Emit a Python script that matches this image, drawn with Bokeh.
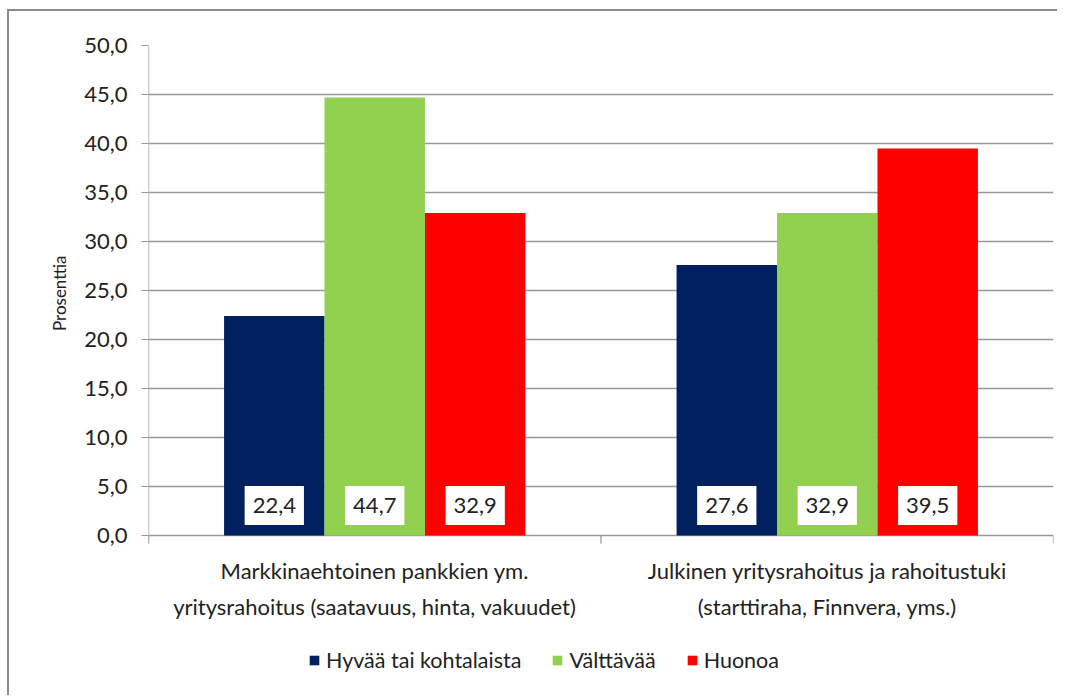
from bokeh.plotting import figure
from bokeh.models import (ColumnDataSource, FactorRange, Range1d, Title,
                          FixedTicker, Legend, LegendItem)
from bokeh.transform import dodge
from bokeh.core.properties import value
from bokeh.embed import file_html
from bokeh.resources import INLINE

# ---- data ----
categories = [
    "Markkinaehtoinen pankkien ym.\nyritysrahoitus (saatavuus, hinta, vakuudet)",
    "Julkinen yritysrahoitus ja rahoitustuki\n(starttiraha, Finnvera, yms.)",
]
series_names = ["Hyvää tai kohtalaista", "Välttävää", "Huonoa"]
hyvaa = [22.4, 27.6]
valttavaa = [44.7, 32.9]
huonoa = [32.9, 39.5]
y_ticks = [0, 5, 10, 15, 20, 25, 30, 35, 40, 45, 50]
y_label = "Prosenttia"

# ---- style ----
colors = ["#002060", "#92D050", "#FF0000"]
FONT = "Lato"
TXT = "#222222"
GRID = "#999999"
Y_MAX = 50
TICK_Y = -0.8163   # length of the category boundary ticks under the zero line
Y_MIN = -16.33     # frame continues below the bars for labels and legend


def fmt(v):
    return f"{v:.1f}".replace(".", ",")


src = ColumnDataSource(dict(
    cat=categories,
    s0=hyvaa, s1=valttavaa, s2=huonoa,
    l0=[fmt(v) for v in hyvaa],
    l1=[fmt(v) for v in valttavaa],
    l2=[fmt(v) for v in huonoa],
))

p = figure(
    x_range=FactorRange(*categories, range_padding=0),
    y_range=Range1d(Y_MIN, Y_MAX),
    width=1050, height=686,
    min_border_left=139, min_border_right=6,
    min_border_top=34, min_border_bottom=2,
    x_axis_location=None,
    toolbar_location=None, output_backend="svg",
    styles={"border-left": "2px solid #8a8a8a", "border-top": "2px solid #8a8a8a",
            "margin-left": "7px", "margin-top": "9px"},
)
p.outline_line_color = None
p.xgrid.grid_line_color = None
p.ygrid.ticker = FixedTicker(ticks=y_ticks)
p.ygrid.grid_line_color = GRID
p.ygrid.grid_line_width = 1.3

# y axis (ticks + labels; its line is drawn as a segment so it stops under zero)
ya = p.yaxis[0]
ya.ticker = FixedTicker(ticks=y_ticks)
ya.major_label_overrides = {t: fmt(t) for t in y_ticks}
ya.axis_line_color = None
ya.major_tick_line_color = GRID
ya.major_tick_in = 0
ya.major_tick_out = 7
ya.minor_tick_line_color = None
ya.major_label_standoff = 14
ya.major_label_text_font = FONT
ya.major_label_text_font_size = "22px"
ya.major_label_text_color = TXT

ytitle = Title(text=y_label, align="right", offset=210, standoff=24,
               text_font=FONT, text_font_size="17px", text_font_style="normal",
               text_color=TXT)
p.add_layout(ytitle, "left")

first = ColumnDataSource(dict(cat=categories[:1]))
last = ColumnDataSource(dict(cat=categories[-1:]))
# y axis line
p.segment(x0=dodge("cat", -0.5, range=p.x_range), x1=dodge("cat", -0.5, range=p.x_range),
          y0=Y_MAX, y1=TICK_Y, source=first, line_color=GRID, line_width=1.3)
# category boundary ticks below the zero line
p.segment(x0=dodge("cat", -0.5, range=p.x_range), x1=dodge("cat", -0.5, range=p.x_range),
          y0=0, y1=TICK_Y, source=src, line_color=GRID, line_width=1.3)
p.segment(x0=dodge("cat", 0.5, range=p.x_range), x1=dodge("cat", 0.5, range=p.x_range),
          y0=0, y1=TICK_Y, source=last, line_color=GRID, line_width=1.3)

# category labels
p.text(x="cat", y=0, text="cat", source=src, y_offset=22,
       text_align="center", text_baseline="top", text_line_height=1.3,
       text_font=value(FONT), text_font_size="22px", text_color=TXT)

offsets = [-0.222, 0.0, 0.222]
bw = 0.222
renderers = []
for i in range(3):
    r = p.vbar(x=dodge("cat", offsets[i], range=p.x_range), top=f"s{i}",
               width=bw, source=src, fill_color=colors[i], line_color=None)
    renderers.append(r)
    p.text(x=dodge("cat", offsets[i], range=p.x_range), y=0, text=f"l{i}",
           source=src, y_offset=-30, anchor="center",
           text_font=value(FONT), text_font_size="22px", text_color=TXT,
           background_fill_color="white", padding=(8, 12))

legend = Legend(
    items=[LegendItem(label=series_names[i], renderers=[renderers[i]]) for i in range(3)],
    orientation="horizontal", location=(160, 22),
    glyph_width=12, glyph_height=12, label_standoff=6, spacing=30,
    label_text_font=FONT, label_text_font_size="21.5px", label_text_color=TXT,
    padding=0, margin=0, border_line_color=None, background_fill_alpha=0,
)
p.add_layout(legend)

open("out.html", "w").write(file_html(p, INLINE))
